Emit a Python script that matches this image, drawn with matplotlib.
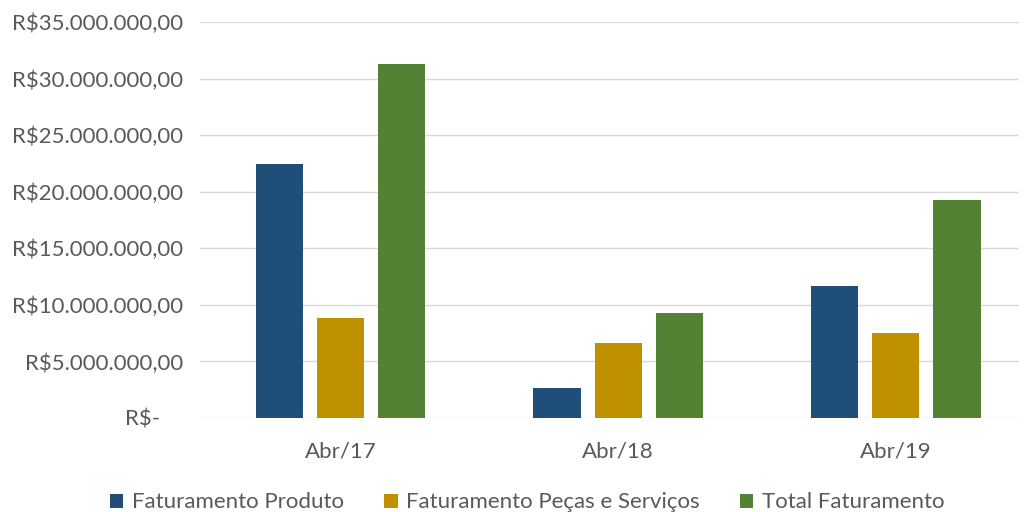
import numpy as np
import matplotlib.pyplot as plt
from matplotlib.ticker import FuncFormatter

categorias = ['Abr/17', 'Abr/18', 'Abr/19']
fat_produto = [22450000, 2650000, 11670000]
fat_pecas = [8840000, 6630000, 7510000]
total_fat = [31300000, 9280000, 19250000]
series_nomes = ['Faturamento Produto', 'Faturamento Peças e Serviços', 'Total Faturamento']
cores = ['#1F4E79', '#BF9000', '#548235']

plt.rcParams['font.family'] = ['Lato', 'DejaVu Sans']

def moeda(v, pos):
    if v == 0:
        return 'R$-    '
    s = '{:,.2f}'.format(v).replace(',', 'X').replace('.', ',').replace('X', '.')
    return 'R$' + s

fig = plt.figure(figsize=(10.24, 5.12), dpi=100)
ax = fig.add_axes([0.195, 0.1836, 0.80, 0.7734])

x = np.arange(len(categorias))
w = 0.17
passo = 0.22
for i, (vals, nome, cor) in enumerate(zip([fat_produto, fat_pecas, total_fat], series_nomes, cores)):
    ax.bar(x + (i - 1) * passo, vals, width=w, color=cor, label=nome, zorder=3)

ax.set_ylim(0, 35000000)
ax.set_yticks(np.arange(0, 35000001, 5000000))
ax.yaxis.set_major_formatter(FuncFormatter(moeda))
ax.set_xlim(-0.507, 2.443)
ax.set_xticks(x)
ax.set_xticklabels(categorias)
ax.grid(axis='y', color='#D9D9D9', linewidth=1, zorder=0)
for s in ax.spines.values():
    s.set_visible(False)
ax.tick_params(axis='both', length=0, labelsize=16, colors='#595959')
ax.tick_params(axis='x', pad=17)
ax.tick_params(axis='y', pad=12)

ax.legend(loc='lower center', bbox_to_anchor=(0.515, -0.04), bbox_transform=fig.transFigure,
          ncol=3, frameon=False, fontsize=16, handlelength=0.6, handleheight=0.6,
          columnspacing=1.8, handletextpad=0.4, labelcolor='#595959')

fig.savefig('out.png', dpi=100)
